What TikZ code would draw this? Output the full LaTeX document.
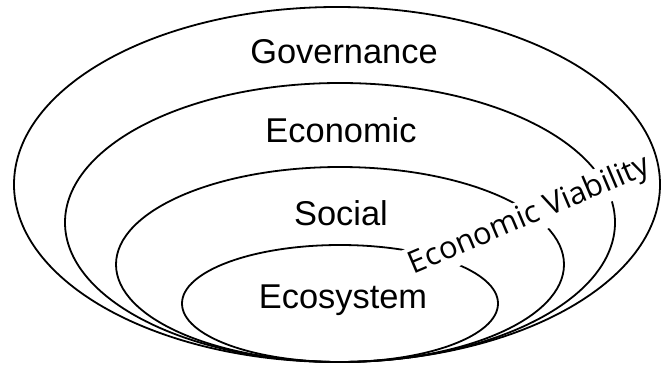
\documentclass[tikz,border=0pt]{standalone}
\usepackage{fontspec}
\setmainfont{Liberation Sans}
\newfontfamily\viabfont{Open Sans}

\tikzset{
  ring/.style={line width=0.9pt},
  lbl/.style={anchor=base,inner sep=0pt,font=\fontsize{17.2}{20}\selectfont},
}

\begin{document}
\begin{tikzpicture}[x=0.5pt,y=-0.5pt]

\useasboundingbox (0,0) rectangle (662,369);

% the nested rings, all touching at the bottom
\draw[ring] (337,184.5) ellipse [x radius=323, y radius=177.5];
\draw[ring] (340,222.5) ellipse [x radius=275, y radius=139.5];
\draw[ring] (340,264.5) ellipse [x radius=224, y radius=97.5];
\draw[ring] (340,303.5) ellipse [x radius=158, y radius=58.5];

% labels of the rings
\node[lbl] (gov) at (344,63) {Governance};
\node[lbl] (econ) at (341,142) {Economic};
\node[lbl] (soc) at (341,225) {Social};
\node[lbl] (eco) at (343,308) {Ecosystem};

% the slanted label cutting across the rings
\node[anchor=base,fill=white,inner sep=1.5pt,rotate=23,
      font=\viabfont\fontsize{15.4}{18}\selectfont] (viab) at (533,223.5) {Economic Viability};

\end{tikzpicture}
\end{document}
